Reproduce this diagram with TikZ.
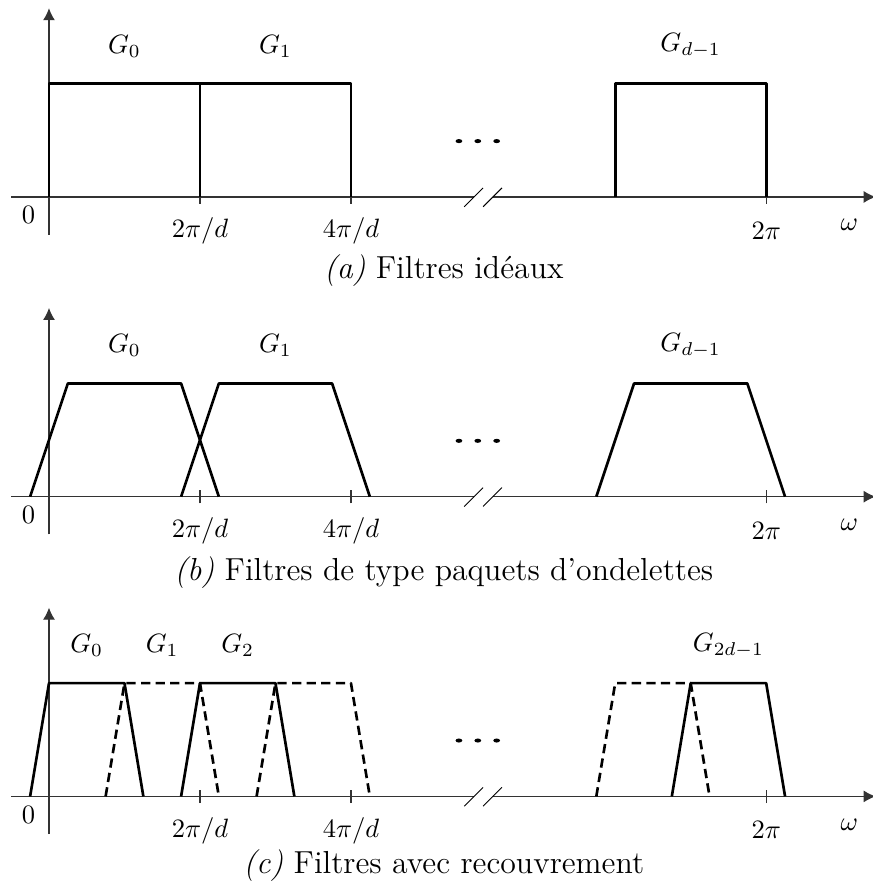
\documentclass[tikz,border=0pt]{standalone}
\usepackage{amsfonts}
\usepackage{tikz}
\usetikzlibrary{arrows.meta, calc}

\begin{document}
\begin{tikzpicture}[>={Latex[length=4.5pt, width=4.5pt]},
    axis/.style={line width=0.45pt, black!80},
    brk/.style={line width=0.35pt},
    filt/.style={line width=1pt, line join=round},
    filtd/.style={filt, dash pattern=on 3.5pt off 2pt},
    captxt/.style={font=\large}]
      \useasboundingbox (-0.649,2.609) rectangle (10.914,-9.18);

      % (a) ideal filters
      \begin{scope}
        \draw[axis, ->] (0,-0.5) -- (0,2.5);
        \draw[axis] (-0.5,0) -- (5.625,0);
        \draw[axis, ->] (5.875,0) -- (10.95,0);
        \draw[brk] (5.5,-0.13) -- (5.75,0.12);
        \draw[brk] (5.75,-0.13) -- (6.0,0.12);
        \draw[axis] (2,-0.09) -- (2,0.09) (4,-0.09) -- (4,0.09) (9.5,-0.09) -- (9.5,0.09);
        \node (zeroA) at (-0.27,-0.24) {$0$};
        \node (tpdA) at (2,-0.45) {$2\pi/d$};
        \node (fpdA) at (4,-0.45) {$4\pi/d$};
        \node (tpA) at (9.5,-0.45) {$2\pi$};
        \node (omA) at (10.6,-0.37) {$\omega$};
        \fill (5.43,0.74) ellipse (0.045 and 0.027) (5.68,0.74) ellipse (0.045 and 0.027) (5.93,0.74) ellipse (0.045 and 0.027);
        % Filters
        \draw[filt] (0,0) -- (0,1.5) -- (2,1.5) -- (2,0);
        \draw[filt] (2,0) -- (2,1.5) -- (4,1.5) -- (4,0);
        \draw[filt] (7.5,0) -- (7.5,1.5) -- (9.5,1.5) -- (9.5,0);
        \node (ga0) at (1,2) {$G_0$};
        \node (ga1) at (3,2) {$G_1$};
        \node (gad) at (8.5,2) {$G_{d-1}$};
        \node[captxt] (capA) at (5.23,-0.98) {\textit{(a)} Filtres idéaux};
      \end{scope}

      % (b) wavelet packet filters
      \begin{scope}[yshift=-3.97cm]
        \draw[axis, ->] (0,-0.5) -- (0,2.5);
        \draw[axis] (-0.5,0) -- (5.625,0);
        \draw[axis, ->] (5.875,0) -- (10.95,0);
        \draw[brk] (5.5,-0.13) -- (5.75,0.12);
        \draw[brk] (5.75,-0.13) -- (6.0,0.12);
        \draw[axis] (2,-0.09) -- (2,0.09) (4,-0.09) -- (4,0.09) (9.5,-0.09) -- (9.5,0.09);
        \node (zeroB) at (-0.27,-0.24) {$0$};
        \node (tpdB) at (2,-0.45) {$2\pi/d$};
        \node (fpdB) at (4,-0.45) {$4\pi/d$};
        \node (tpB) at (9.5,-0.45) {$2\pi$};
        \node (omB) at (10.6,-0.37) {$\omega$};
        \fill (5.43,0.74) ellipse (0.045 and 0.027) (5.68,0.74) ellipse (0.045 and 0.027) (5.93,0.74) ellipse (0.045 and 0.027);
        % Filters
        \draw[filt] (-0.25,0) -- (0.25,1.5) -- (1.75,1.5) -- (2.25,0);
        \draw[filt] (1.75,0) -- (2.25,1.5) -- (3.75,1.5) -- (4.25,0);
        \draw[filt] (7.25,0) -- (7.75,1.5) -- (9.25,1.5) -- (9.75,0);
        \node (gb0) at (1,2) {$G_0$};
        \node (gb1) at (3,2) {$G_1$};
        \node (gbd) at (8.5,2) {$G_{d-1}$};
        \node[captxt] (capB) at (5.23,-1.0) {\textit{(b)} Filtres de type paquets d'ondelettes};
      \end{scope}

      % (c) overlapping filters
      \begin{scope}[yshift=-7.94cm]
        \draw[axis, ->] (0,-0.5) -- (0,2.5);
        \draw[axis] (-0.5,0) -- (5.625,0);
        \draw[axis, ->] (5.875,0) -- (10.95,0);
        \draw[brk] (5.5,-0.13) -- (5.75,0.12);
        \draw[brk] (5.75,-0.13) -- (6.0,0.12);
        \draw[axis] (2,-0.09) -- (2,0.09) (4,-0.09) -- (4,0.09) (9.5,-0.09) -- (9.5,0.09);
        \node (zeroC) at (-0.27,-0.24) {$0$};
        \node (tpdC) at (2,-0.45) {$2\pi/d$};
        \node (fpdC) at (4,-0.45) {$4\pi/d$};
        \node (tpC) at (9.5,-0.45) {$2\pi$};
        \node (omC) at (10.6,-0.37) {$\omega$};
        \fill (5.43,0.74) ellipse (0.045 and 0.027) (5.68,0.74) ellipse (0.045 and 0.027) (5.93,0.74) ellipse (0.045 and 0.027);
        % Filters
        \draw[filtd] (0.75,0) -- (1,1.5) -- (2,1.5) -- (2.25,0);
        \draw[filtd] (2.75,0) -- (3,1.5) -- (4,1.5) -- (4.25,0);
        \draw[filtd] (7.25,0) -- (7.5,1.5) -- (8.5,1.5) -- (8.75,0);
        \draw[filt] (-0.25,0) -- (0,1.5) -- (1,1.5) -- (1.25,0);
        \draw[filt] (1.75,0) -- (2,1.5) -- (3,1.5) -- (3.25,0);
        \draw[filt] (8.25,0) -- (8.5,1.5) -- (9.5,1.5) -- (9.75,0);
        \node (gc0) at (0.5,2) {$G_0$};
        \node (gc1) at (1.5,2) {$G_1$};
        \node (gc2) at (2.5,2) {$G_2$};
        \node (gcd) at (9,2) {$G_{2d-1}$};
        \node[captxt] (capC) at (5.23,-0.92) {\textit{(c)} Filtres avec recouvrement};
      \end{scope}
    \end{tikzpicture}
\end{document}
